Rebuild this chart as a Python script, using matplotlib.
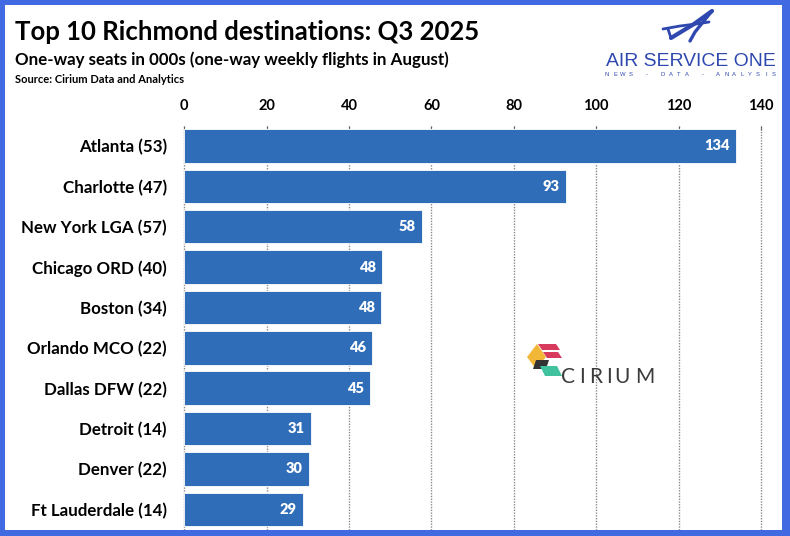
import matplotlib
matplotlib.use("Agg")
import matplotlib.pyplot as plt
from matplotlib.patches import Rectangle, Polygon
from matplotlib.lines import Line2D

plt.rcParams['font.family'] = ['Lato', 'DejaVu Sans']

destinations = ["Atlanta", "Charlotte", "New York LGA", "Chicago ORD", "Boston",
                "Orlando MCO", "Dallas DFW", "Detroit", "Denver", "Ft Lauderdale"]
weekly_flights = [53, 47, 57, 40, 34, 22, 22, 14, 22, 14]
seats_000s = [133.9, 92.6, 57.8, 48.1, 47.8, 45.6, 45.2, 30.8, 30.2, 28.8]
x_ticks = [0, 20, 40, 60, 80, 100, 120, 140]

title = "Top 10 Richmond destinations: Q3 2025"
subtitle = "One-way seats in 000s (one-way weekly flights in August)"
source = "Source: Cirium Data and Analytics"

W, H = 790, 536
BAR = "#2F6DB8"
BORDER = "#4169E1"

fig = plt.figure(figsize=(W / 100, H / 100), dpi=100)
fig.patch.set_facecolor("white")


def fx(px):
    return px / W


def fy(py):
    return 1 - py / H


renderer = fig.canvas.get_renderer()


def fit(t, target_w):
    w = t.get_window_extent(renderer).width
    t.set_fontsize(t.get_fontsize() * target_w / w)
    return t


# axes
left, right, top, bottom = 184.3, 761.0, 125.8, 529.5
ax = fig.add_axes([fx(left), fy(bottom), fx(right) - fx(left), (bottom - top) / H])
ypos = list(range(len(destinations)))
ax.barh(ypos, seats_000s, height=0.83, color=BAR, edgecolor="white", linewidth=0.6, zorder=2)
ax.set_xlim(0, 140)
ax.set_ylim(len(destinations) - 0.5, -0.5)
ax.set_axisbelow(True)
ax.grid(axis="x", linestyle=(0, (1, 1)), color="#8a8a8a", linewidth=1.0)
ax.grid(axis="y", visible=False)
for s in ax.spines.values():
    s.set_visible(False)
ax.xaxis.tick_top()
ax.set_xticks(x_ticks)
ax.set_xticklabels([str(v) for v in x_ticks], fontweight="bold", fontsize=10.5)
ax.tick_params(axis="x", direction="in", length=3, color="#666666", pad=9)
ax.set_yticks(ypos)
ax.set_yticklabels([f"{d} ({f})" for d, f in zip(destinations, weekly_flights)],
                   fontweight="bold", fontsize=12)
ax.tick_params(axis="y", length=0, pad=12.5)
for g in ax.get_xgridlines():
    g.set_clip_on(False)

fig.canvas.draw()
lbls = ax.get_yticklabels()
w_last = lbls[-1].get_window_extent(renderer).width
scale = 136.0 / w_last
for l in lbls:
    l.set_fontsize(l.get_fontsize() * scale)

for y, v in zip(ypos, seats_000s):
    ax.annotate(f"{v:.0f}", xy=(v, y), xytext=(-6.5, 0), textcoords="offset pixels",
                ha="right", va="center", color="white", fontweight="heavy", fontsize=10.5)

# titles
t1 = fig.text(fx(15), fy(40), title, fontweight="bold", fontsize=20, ha="left", va="baseline")
fit(t1, 464)
t2 = fig.text(fx(15), fy(65), subtitle, fontweight="bold", fontsize=13, ha="left", va="baseline")
fit(t2, 432)
t3 = fig.text(fx(15), fy(83), source, fontweight="bold", fontsize=8, ha="left", va="baseline")
fit(t3, 170)

# Air Service One logo
LOGO = "#2F48B0"
a1 = fig.text(fx(606), fy(66), "AIR SERVICE ONE", color=LOGO, fontsize=14,
              family=["Liberation Sans", "DejaVu Sans"], ha="left", va="baseline")
fit(a1, 170)
tag = "NEWS - DATA - ANALYSIS"
step = (774 - 607) / (len(tag) - 1)
for i, ch in enumerate(tag):
    if ch != " ":
        fig.text(fx(607 + i * step), fy(76), ch, color=LOGO, fontsize=4.2,
                 family=["Liberation Sans", "DejaVu Sans"], ha="center", va="baseline")
strokes = [
    ([(712, 11), (694, 24), (671, 38)], 3.0),
    ([(712, 11), (703, 22), (695, 32), (690, 41)], 2.4),
    ([(663, 29), (680, 26), (696, 24), (709, 22)], 2.0),
    ([(671, 38), (668, 29)], 2.0),
]
for st, lw in strokes:
    fig.add_artist(Line2D([fx(p[0]) for p in st], [fy(p[1]) for p in st],
                          color=LOGO, linewidth=lw, solid_capstyle="round"))

# Cirium logo
polys = [
    ("#D83A5E", [(538, 344), (556, 344), (560, 350), (542, 350)]),
    ("#D83A5E", [(543, 352), (558, 352), (562, 358), (547, 358)]),
    ("#F2B737", [(527, 357), (537, 344), (546, 357), (536, 369)]),
    ("#333333", [(536, 360), (549, 360), (546, 369), (533, 369)]),
    ("#3FC29D", [(540, 366), (557, 366), (562, 376), (545, 376)]),
]
for c, pts in polys:
    fig.add_artist(Polygon([(fx(x), fy(y)) for x, y in pts], closed=True,
                           facecolor=c, edgecolor="none"))
letters = ["C", "I", "R", "I", "U", "M"]
centers = [568.5, 582, 595.5, 608.5, 621.5, 645]
for ch, cx in zip(letters, centers):
    fig.text(fx(cx), fy(383), ch, color="#3a3a3a", fontsize=15,
             fontweight="normal", family=["Lato", "DejaVu Sans"], ha="center", va="baseline")

# blue frame
bl, bt, br, bb = 5, 5, 8, 6
for (x0, y0, w, h) in [(0, 0, bl, H), (0, 0, W, bt), (W - br, 0, br, H), (0, H - bb, W, bb)]:
    fig.add_artist(Rectangle((fx(x0), fy(y0 + h)), w / W, h / H, facecolor=BORDER,
                             edgecolor="none", zorder=10))

fig.savefig("out.png", dpi=100)
